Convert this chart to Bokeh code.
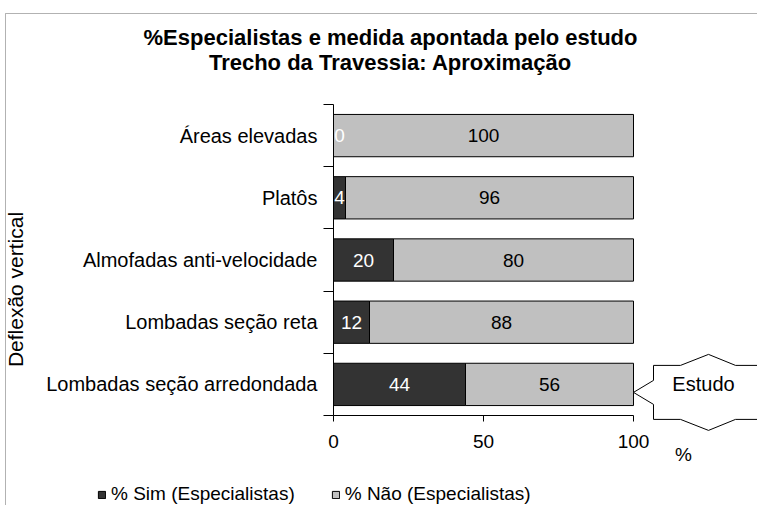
import numpy as np
from bokeh.plotting import figure
from bokeh.models import (Range1d, FixedTicker, Legend, LegendItem, Label,
                          ColumnDataSource, BoxAnnotation)
from bokeh.core.properties import value
from bokeh.embed import file_html
from bokeh.resources import INLINE

# ---------------- data ----------------
categories = ["Áreas elevadas", "Platôs", "Almofadas anti-velocidade",
              "Lombadas seção reta", "Lombadas seção arredondada"]
sim = [0, 4, 20, 12, 44]
nao = [100, 96, 80, 88, 56]
x_ticks = [0, 50, 100]
study_category = "Lombadas seção arredondada"
title_lines = ["%Especialistas e medida apontada pelo estudo",
               "Trecho da Travessia: Aproximação"]
series_names = ["% Sim (Especialistas)", "% Não (Especialistas)"]
y_axis_title = "Deflexão vertical"
x_unit_label = "%"
callout_text = "Estudo"

# ---------------- layout / style ----------------
FONT = "Liberation Sans"
DARK = "#333333"
LIGHT = "#C0C0C0"
W, H = 757, 505           # canvas size
X0, PXX = 333, 3.0        # canvas x of value 0, px per x unit
Y0, PXY = 415, 62.2       # canvas y of axis baseline, px per category


def sx(px):               # canvas x -> screen x (from left of frame)
    return px


def sy(py):               # canvas y (top-down) -> screen y (from bottom)
    return H - py


n = len(categories)
ypos = np.array([n - 1 - i + 0.5 for i in range(n)])
sim_a = np.array(sim, dtype=float)
nao_a = np.array(nao, dtype=float)
total = sim_a + nao_a

src = ColumnDataSource(dict(
    y=ypos, sim=sim_a, left_nao=sim_a, right_nao=total,
    sim_lbl=[str(v) for v in sim], nao_lbl=[str(v) for v in nao],
    sim_x=np.maximum(sim_a / 2, 2.0), nao_x=sim_a + nao_a / 2,
))

x_range = Range1d(-X0 / PXX, (W - X0) / PXX)
y_range = Range1d((Y0 - H) / PXY, Y0 / PXY)

p = figure(width=W, height=H, x_range=x_range, y_range=y_range,
           min_border=0, min_border_left=0, min_border_right=0,
           min_border_top=0, min_border_bottom=0,
           output_backend="svg", toolbar_location=None, title=None)
p.outline_line_color = None
p.xgrid.visible = False
p.ygrid.visible = False
p.background_fill_color = "white"
p.border_fill_color = "white"

bh = 0.68
r_sim = p.hbar(y="y", left=0, right="sim", height=bh, source=src,
               fill_color=DARK, line_color="black", line_width=1)
r_nao = p.hbar(y="y", left="left_nao", right="right_nao", height=bh, source=src,
               fill_color=LIGHT, line_color="black", line_width=1)

p.text(x="sim_x", y="y", text="sim_lbl", source=src, text_align="center",
       text_baseline="middle", text_color="white", text_font=value(FONT),
       text_font_size="19px")
p.text(x="nao_x", y="y", text="nao_lbl", source=src, text_align="center",
       text_baseline="middle", text_color="black", text_font=value(FONT),
       text_font_size="19px")

# ---- axes (fixed inside the full-canvas frame) ----
xa = p.xaxis[0]
xa.fixed_location = 0
xa.ticker = FixedTicker(ticks=x_ticks)
xa.bounds = (0, 100)
xa.major_tick_in = 0
xa.major_tick_out = 6
xa.minor_tick_line_color = None
xa.major_label_text_font = FONT
xa.major_label_text_font_size = "19px"
xa.major_label_text_color = "black"
xa.axis_line_color = "black"
xa.major_tick_line_color = "black"
xa.major_label_standoff = 13

ya = p.yaxis[0]
ya.fixed_location = 0
ya.bounds = (0, n)
ya.ticker = FixedTicker(ticks=list(ypos), minor_ticks=list(range(n + 1)))
ya.major_label_overrides = {float(y): c for y, c in zip(ypos, categories)}
ya.major_tick_line_color = None
ya.minor_tick_in = 0
ya.minor_tick_out = 10
ya.minor_tick_line_color = "black"
ya.axis_line_color = "black"
ya.major_label_text_font = FONT
ya.major_label_text_font_size = "20px"
ya.major_label_text_color = "black"
ya.major_label_standoff = 6

# ---- callout pointing at the study bar ----
si = categories.index(study_category)
tip_x = total[si]
tip_y = ypos[si]
tip_dy = 8  # px: the callout sits slightly below the bar centre
shape = [(0, 0), (20, -12), (20, -27), (47, -27), (75, -38), (102, -27), (129, -27),
         (129, -12), (150, 0), (129, 12), (129, 27), (102, 27), (75, 38), (47, 27),
         (20, 27), (20, 12)]
cx = [tip_x + dx / PXX for dx, dy in shape]
cy = [tip_y - (dy + tip_dy) / PXY for dx, dy in shape]
p.patch(cx, cy, fill_color="white", line_color="black", line_width=1)
p.text(x=[tip_x + 70 / PXX], y=[tip_y], text=[callout_text], text_align="center",
       text_baseline="middle", text_color="black", text_font=value(FONT),
       text_font_size="20px")

# ---- legend ----
legend = Legend(items=[LegendItem(label=series_names[0], renderers=[r_sim]),
                       LegendItem(label=series_names[1], renderers=[r_nao])],
                orientation="horizontal", location=(sx(97), 0),
                glyph_width=9, glyph_height=9, label_standoff=5, spacing=36,
                padding=0, margin=0, border_line_color=None,
                background_fill_alpha=0,
                label_text_font=FONT, label_text_font_size="19px",
                label_text_color="black")
p.add_layout(legend, "center")

# ---- texts ----
for i, t in enumerate(title_lines):
    p.add_layout(Label(x=sx(390), y=sy(37 + 25 * i), x_units="screen",
                       y_units="screen", text=t, text_align="center",
                       text_baseline="middle", text_font=FONT,
                       text_font_size="22px", text_font_style="bold",
                       text_color="black"))

p.add_layout(Label(x=sx(15), y=sy(289), x_units="screen", y_units="screen",
                   text=y_axis_title, angle=np.pi / 2,
                   text_align="center", text_baseline="middle",
                   text_font=FONT, text_font_size="21px", text_color="black"))

p.add_layout(Label(x=sx(683), y=sy(454), x_units="screen", y_units="screen",
                   text=x_unit_label, text_align="center", text_baseline="middle",
                   text_font=FONT, text_font_size="19px", text_color="black"))

# outer chart border (right and bottom sides fall outside the picture)
p.add_layout(BoxAnnotation(left=(5 - X0) / PXX, top=(Y0 - 13) / PXY,
                           right=x_range.end + 10, bottom=y_range.start - 10,
                           fill_alpha=0, line_color="black", line_width=1))

open("out.html", "w").write(file_html(p, INLINE))
